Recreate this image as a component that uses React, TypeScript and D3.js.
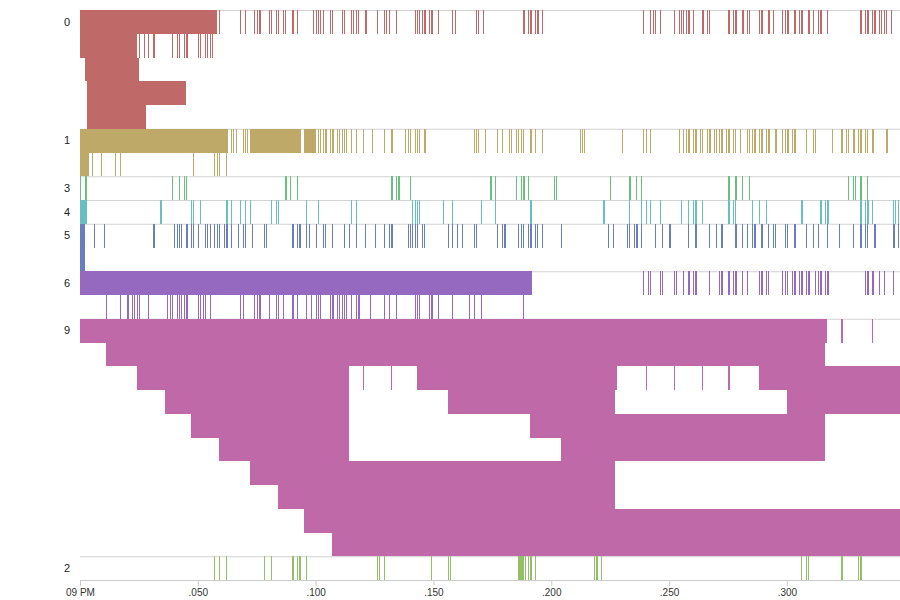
import React, { useEffect, useRef } from "react";
import * as d3 from "d3";

const WIDTH = 900;
const HEIGHT = 600;
const PLOT_LEFT = 80;
const PLOT_RIGHT = 900;
const PLOT_TOP = 10;
const PLOT_BOTTOM = 580;
const DOMAIN_MS = 348;
const TICK_MS = 0.4;
const T0 = new Date(2024, 0, 1, 21, 0, 0, 0);

// thread ids in display order
const threadOrder = ["0", "1", "3", "4", "5", "6", "9", "2"];

// ---- thread 0 ----
const t0l0Bars = [[0, 58.1]];
const t0l0Ticks = [59.1, 68.0, 70.1, 74.0, 75.2, 76.1, 76.9, 80.3, 81.2, 83.3, 84.1, 86.3, 87.1, 90.9, 92.2, 99.0, 100.3, 101.1, 102.0, 103.2, 106.2, 107.0, 111.3, 112.1, 115.1, 116.0, 117.2, 118.1, 121.0, 121.9, 126.1, 129.1, 130.0, 131.2, 134.2, 142.3, 143.1, 144.0, 145.2, 146.1, 146.9, 148.2, 149.9, 152.0, 158.0, 159.2, 168.1, 169.0, 171.1, 188.1, 188.9, 190.2, 191.0, 191.9, 193.2, 194.0, 194.9, 196.1, 239.0, 242.0, 243.2, 244.1, 246.2, 252.1, 254.3, 255.1, 256.0, 257.2, 258.9, 260.2, 264.9, 266.1, 267.0, 275.1, 275.9, 277.2, 278.0, 278.9, 281.8, 283.1, 284.0, 288.2, 289.1, 289.9, 292.0, 292.9, 294.2, 298.0, 299.2, 300.9, 303.9, 305.2, 306.0, 306.9, 309.8, 311.1, 313.2, 314.1, 314.9, 317.1, 331.1, 331.9, 333.2, 334.0, 334.9, 336.1, 337.8, 339.1, 340.0, 341.2, 342.1, 344.2];
const t0l1Bars = [[0.8, 24.2]];
const t0l1Ticks = [25.2, 27.3, 29.0, 31.9, 39.2, 41.3, 42.1, 44.3, 45.1, 45.9, 50.2, 51.0, 53.2, 54.0, 55.3, 56.1];
const t0l2Bars = [[2.1, 25.9]];
const t0l3Bars = [[3.0, 45.8]];
const t0l4Bars = [[3.8, 28.0]];

// ---- thread 1 ----
const t1l0Bars = [[0, 63.2], [72.1, 94.2], [95.9, 100.1]];
const t1l0Ticks = [64.1, 65.0, 66.3, 69.3, 70.1, 71.0, 95.2, 101.1, 102.0, 103.2, 104.1, 104.9, 106.2, 107.0, 107.9, 109.2, 110.0, 111.3, 112.1, 113.0, 115.1, 117.2, 120.2, 124.0, 129.1, 132.1, 132.9, 138.0, 139.3, 140.1, 142.3, 143.1, 144.0, 146.1, 146.9, 167.3, 168.1, 169.0, 172.0, 177.0, 179.2, 182.1, 183.0, 185.1, 186.0, 187.2, 188.1, 191.0, 191.9, 193.2, 196.1, 212.3, 213.1, 214.0, 230.1, 239.0, 240.3, 242.0, 254.3, 256.0, 257.2, 258.1, 258.9, 260.2, 261.1, 261.9, 263.2, 264.0, 266.1, 267.0, 267.8, 269.1, 270.0, 271.2, 272.1, 272.9, 274.2, 275.1, 275.9, 277.2, 278.0, 280.1, 283.1, 284.0, 285.2, 286.1, 286.9, 288.2, 289.1, 289.9, 291.2, 292.0, 292.9, 295.0, 295.8, 298.0, 299.2, 300.1, 300.9, 302.2, 303.0, 303.9, 308.1, 311.1, 312.0, 319.2, 323.0, 323.9, 325.1, 326.0, 328.1, 328.9, 330.2, 331.9, 333.2, 334.0, 336.1, 336.9, 342.9];
const t1l1Bars = [[0.8, 4.2]];
const t1l1Ticks = [5.2, 9.0, 15.0, 17.1, 48.1, 57.0, 58.3, 59.1, 62.1];

// ---- thread 3 ----
const t3l0Bars = [[0, 0.7], [2.1, 3.0]];
const t3l0Ticks = [39.2, 42.1, 44.3, 45.1, 87.1, 87.9, 89.2, 92.2, 132.9, 134.2, 135.0, 135.9, 140.1, 174.9, 176.2, 185.1, 187.2, 188.1, 188.9, 190.2, 201.2, 202.1, 225.0, 233.9, 236.0, 238.1, 275.1, 275.9, 278.0, 278.9, 281.0, 284.0, 326.0, 328.1, 329.0, 331.9, 334.1];

// ---- thread 4 ----
const t4l0Bars = [[0, 3.0]];
const t4l0Ticks = [34.9, 47.2, 48.1, 51.0, 62.9, 64.2, 68.0, 70.1, 72.3, 81.2, 83.3, 84.1, 96.0, 101.1, 115.1, 117.2, 141.0, 142.3, 143.1, 144.0, 154.1, 158.0, 170.3, 176.2, 191.0, 191.9, 222.9, 233.0, 238.1, 240.3, 242.0, 246.2, 255.1, 258.1, 260.2, 261.9, 264.0, 275.9, 277.2, 278.0, 285.2, 288.2, 291.2, 306.9, 314.9, 316.2, 317.9, 331.9, 333.2, 334.9, 336.1, 345.1, 346.3, 347.2];

// ---- thread 5 ----
const t5l0Bars = [[0, 2.1]];
const t5l0Ticks = [6.1, 10.3, 31.1, 31.9, 40.0, 41.3, 42.1, 43.0, 45.9, 47.2, 48.1, 50.2, 53.2, 54.0, 55.3, 57.0, 58.3, 59.1, 61.2, 62.9, 64.2, 67.2, 69.3, 70.1, 73.1, 78.2, 79.0, 90.9, 92.2, 93.0, 93.9, 96.0, 97.3, 100.3, 103.2, 104.1, 107.0, 112.1, 114.3, 117.2, 121.0, 125.3, 129.1, 131.2, 132.9, 139.3, 140.1, 141.0, 142.3, 143.1, 145.2, 146.1, 156.3, 158.0, 160.1, 162.2, 167.3, 168.1, 177.0, 179.2, 180.9, 186.0, 187.2, 188.1, 190.2, 191.0, 191.9, 193.2, 194.0, 196.1, 204.2, 224.1, 226.3, 232.2, 233.1, 235.2, 236.0, 236.9, 238.1, 244.1, 247.1, 250.9, 258.1, 261.9, 267.0, 270.0, 272.9, 278.9, 281.0, 283.1, 285.2, 286.9, 289.1, 289.9, 292.0, 294.2, 295.0, 299.2, 300.1, 303.9, 308.1, 311.1, 313.2, 317.1, 322.1, 328.1, 331.1, 331.9, 333.2, 334.0, 337.8, 345.9, 347.2];
const t5l1Bars = [[0.8, 2.1]];

// ---- thread 6 ----
const t6l0Bars = [[0, 192.2]];
const t6l0Ticks = [239.0, 241.1, 242.0, 246.2, 247.1, 252.1, 253.0, 256.0, 258.1, 258.9, 260.2, 261.9, 267.0, 271.2, 272.9, 275.9, 277.2, 278.0, 278.9, 281.0, 283.1, 288.2, 289.9, 291.2, 292.0, 298.0, 299.2, 300.1, 302.2, 303.9, 305.2, 306.0, 306.9, 308.1, 309.8, 312.0, 313.2, 314.1, 314.9, 316.2, 317.9, 333.2, 334.9, 336.1, 336.9, 339.1, 341.2, 345.1];
const t6l1Ticks = [11.2, 17.1, 20.9, 22.2, 23.0, 24.3, 25.2, 29.0, 37.0, 38.3, 39.2, 41.3, 42.1, 43.0, 44.3, 45.9, 50.2, 51.5, 52.3, 53.2, 55.3, 68.0, 69.3, 74.0, 75.2, 76.1, 76.9, 80.3, 83.3, 84.1, 86.3, 90.9, 92.2, 96.0, 98.1, 100.3, 101.1, 102.0, 106.2, 107.0, 107.9, 109.2, 110.0, 111.3, 112.1, 113.0, 115.1, 117.2, 118.1, 118.9, 123.2, 129.1, 131.2, 134.2, 142.3, 143.1, 144.0, 148.2, 149.9, 152.0, 158.0, 165.2, 167.3, 170.3, 188.1];

// ---- thread 9 ----
const t9l0Bars = [[0, 317.8]];
const t9l0Ticks = [323.9, 336.2];
const t9l1Bars = [[11.9, 316.1]];
const t9l2Bars = [[24.2, 114.1], [143.8, 228.0], [288.1, 348]];
const t9l2Ticks = [120.2, 132.1, 240.3, 252.1, 264.0, 275.9];
const t9l3Bars = [[36.1, 114.1], [156.1, 227.8], [300.0, 348]];
const t9l4Bars = [[47.9, 114.1], [191.8, 316.1]];
const t9l5Bars = [[59.8, 114.1], [204.1, 316.1]];
const t9l6Bars = [[72.1, 227.8]];
const t9l7Bars = [[84.0, 227.8]];
const t9l8Bars = [[95.9, 348]];
const t9l9Bars = [[107.8, 348]];

// ---- thread 2 ----
const t2l0Ticks = [57.0, 59.1, 62.1, 78.2, 81.2, 90.9, 92.2, 93.9, 96.0, 126.1, 127.0, 129.1, 149.0, 156.3, 157.1, 186.0, 186.8, 187.7, 188.5, 189.4, 190.2, 191.9, 193.2, 218.2, 219.9, 221.2, 306.0, 308.1, 309.0, 323.9, 330.2, 331.9];

type Lane = { thread: string; bars: number[][]; ticks: number[] };

const lanes: Lane[] = [
  { thread: "0", bars: t0l0Bars, ticks: t0l0Ticks },
  { thread: "0", bars: t0l1Bars, ticks: t0l1Ticks },
  { thread: "0", bars: t0l2Bars, ticks: [] },
  { thread: "0", bars: t0l3Bars, ticks: [] },
  { thread: "0", bars: t0l4Bars, ticks: [] },
  { thread: "1", bars: t1l0Bars, ticks: t1l0Ticks },
  { thread: "1", bars: t1l1Bars, ticks: t1l1Ticks },
  { thread: "3", bars: t3l0Bars, ticks: t3l0Ticks },
  { thread: "4", bars: t4l0Bars, ticks: t4l0Ticks },
  { thread: "5", bars: t5l0Bars, ticks: t5l0Ticks },
  { thread: "5", bars: t5l1Bars, ticks: [] },
  { thread: "6", bars: t6l0Bars, ticks: t6l0Ticks },
  { thread: "6", bars: [], ticks: t6l1Ticks },
  { thread: "9", bars: t9l0Bars, ticks: t9l0Ticks },
  { thread: "9", bars: t9l1Bars, ticks: [] },
  { thread: "9", bars: t9l2Bars, ticks: t9l2Ticks },
  { thread: "9", bars: t9l3Bars, ticks: [] },
  { thread: "9", bars: t9l4Bars, ticks: [] },
  { thread: "9", bars: t9l5Bars, ticks: [] },
  { thread: "9", bars: t9l6Bars, ticks: [] },
  { thread: "9", bars: t9l7Bars, ticks: [] },
  { thread: "9", bars: t9l8Bars, ticks: [] },
  { thread: "9", bars: t9l9Bars, ticks: [] },
  { thread: "2", bars: [], ticks: t2l0Ticks },
];

const toDate = (ms: number) => new Date(T0.getTime() + ms);

const sortedIds = [...threadOrder].sort();
const color = (id: string) =>
  d3.hsl(sortedIds.indexOf(id) * 45, 0.4, 0.58).formatHex();

export default function App() {
  const axisRef = useRef<SVGGElement | null>(null);

  const x = d3
    .scaleTime()
    .domain([T0, toDate(DOMAIN_MS)])
    .range([PLOT_LEFT, PLOT_RIGHT]);

  const y = d3
    .scaleBand<number>()
    .domain(lanes.map((_, i) => i))
    .range([PLOT_TOP, PLOT_BOTTOM])
    .padding(0);
  const bw = y.bandwidth();

  const firstLane: Record<string, number> = {};
  lanes.forEach((l, i) => {
    if (firstLane[l.thread] === undefined) firstLane[l.thread] = i;
  });

  useEffect(() => {
    if (!axisRef.current) return;
    const g = d3.select(axisRef.current);
    g.call(d3.axisBottom(x).ticks(d3.timeMillisecond.every(50)) as any);
    g.selectAll(".domain").attr("stroke", "#ccc");
    g.selectAll(".tick line").attr("stroke", "#ccc");
    g.selectAll(".tick text")
      .attr("fill", "#333")
      .style("font-family", "Arial, 'Liberation Sans', sans-serif")
      .style("font-size", "10px");
  }, []);

  return (
    <svg
      width={WIDTH}
      height={HEIGHT}
      style={{ position: "absolute", left: 0, top: 0, background: "#fff" }}
    >
      <g>
        {threadOrder.map((id) => (
          <line
            key={"grid" + id}
            x1={PLOT_LEFT}
            x2={PLOT_RIGHT}
            y1={(y(firstLane[id]) as number) + 0.5}
            y2={(y(firstLane[id]) as number) + 0.5}
            stroke="#d3d3d3"
            strokeWidth={1}
          />
        ))}
      </g>
      <g shapeRendering="crispEdges">
        {lanes.map((lane, i) => {
          const top = y(i) as number;
          const c = color(lane.thread);
          return (
            <g key={"lane" + i}>
              {lane.bars.map((b, j) => {
                const x0 = x(toDate(b[0]));
                const x1 = x(toDate(b[1]));
                return (
                  <rect
                    key={"b" + j}
                    x={x0}
                    y={top}
                    width={Math.max(1, x1 - x0)}
                    height={bw}
                    fill={c}
                  />
                );
              })}
              {lane.ticks.map((t, j) => {
                const x0 = x(toDate(t));
                const x1 = x(toDate(t + TICK_MS));
                return (
                  <rect
                    key={"t" + j}
                    x={x0}
                    y={top}
                    width={Math.max(1, x1 - x0)}
                    height={bw}
                    fill={c}
                  />
                );
              })}
            </g>
          );
        })}
      </g>
      <g>
        {threadOrder.map((id) => (
          <text
            key={"lbl" + id}
            x={70}
            y={(y(firstLane[id]) as number) + bw / 2}
            dy="0.35em"
            textAnchor="end"
            fill="#222"
            style={{ fontFamily: "Arial, 'Liberation Sans', sans-serif", fontSize: 11 }}
          >
            {id}
          </text>
        ))}
      </g>
      <g ref={axisRef} transform={`translate(0,${PLOT_BOTTOM})`} />
    </svg>
  );
}
